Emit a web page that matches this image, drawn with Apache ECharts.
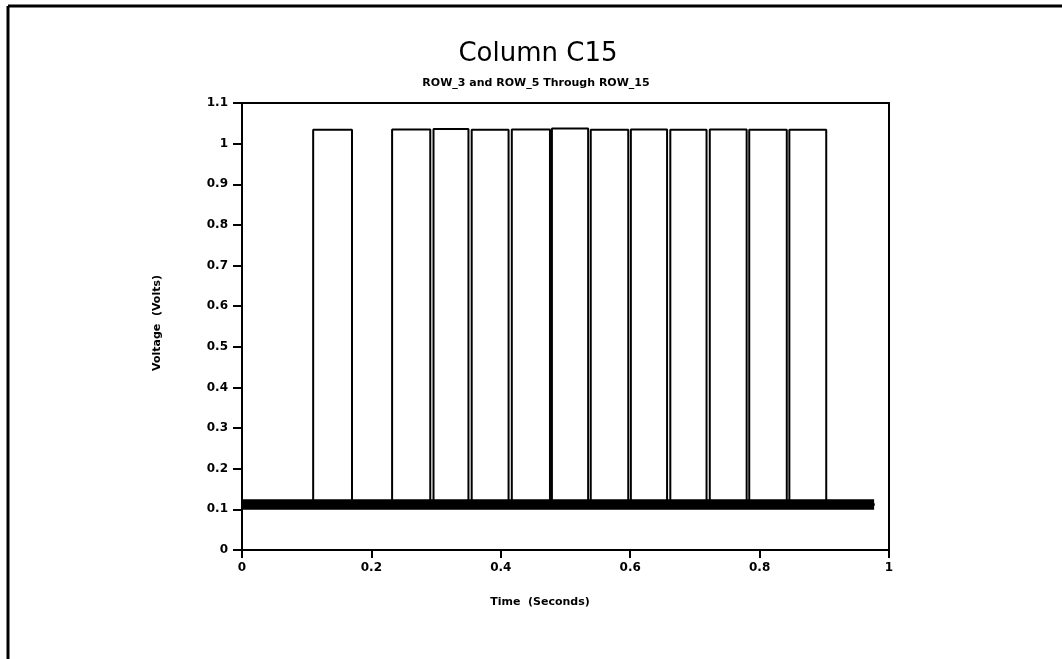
<!DOCTYPE html>
<html>
<head>
<meta charset="utf-8">
<script src="https://cdn.jsdelivr.net/npm/echarts@6/dist/echarts.min.js"></script>
<style>html,body{margin:0;padding:0;background:#fff}#c{width:1062px;height:659px}</style>
</head>
<body>
<div id="c"></div>
<script>
// ---- data ----
const titleText = "Column C15";
const subtitleText = "ROW_3 and ROW_5 Through ROW_15";
const xName = "Time  (Seconds)";
const yName = "Voltage  (Volts)";
const rowNames = ["ROW_3","ROW_5","ROW_6","ROW_7","ROW_8","ROW_9","ROW_10","ROW_11","ROW_12","ROW_13","ROW_14","ROW_15"];
const pulseRise = [0.110, 0.232, 0.296, 0.355, 0.417, 0.479, 0.539, 0.601, 0.662, 0.723, 0.784, 0.846];
const pulseFall = [0.170, 0.291, 0.350, 0.412, 0.476, 0.535, 0.597, 0.657, 0.718, 0.780, 0.842, 0.903];
const pulseTop  = [1.034, 1.035, 1.036, 1.034, 1.035, 1.037, 1.034, 1.035, 1.034, 1.035, 1.034, 1.034];
const baseLevel = 0.112;
const traceStart = 0.0;
const traceEnd = 0.977;
const bandLow = 0.099;
const bandHigh = 0.125;
const xTicks = [0, 0.2, 0.4, 0.6, 0.8, 1];
const yTicks = [0, 0.1, 0.2, 0.3, 0.4, 0.5, 0.6, 0.7, 0.8, 0.9, 1, 1.1];

// ---- build series ----
const series = [];
series.push({
  name: 'noiseBand', type: 'custom', silent: true, z: 1,
  data: [[traceStart, traceEnd, bandLow, bandHigh]],
  encode: { x: [0, 1], y: [2, 3] },
  renderItem: function (params, api) {
    const p0 = api.coord([api.value(0), api.value(3)]);
    const p1 = api.coord([api.value(1), api.value(2)]);
    return { type: 'rect', shape: { x: p0[0], y: p0[1], width: p1[0] - p0[0], height: p1[1] - p0[1] }, style: { fill: '#000' } };
  }
});
rowNames.forEach((nm, i) => {
  series.push({
    name: nm, type: 'line', symbol: 'none', silent: true,
    lineStyle: { width: 2, color: '#000' },
    data: [
      [traceStart, baseLevel],
      [pulseRise[i], baseLevel],
      [pulseRise[i], pulseTop[i]],
      [pulseFall[i], pulseTop[i]],
      [pulseFall[i], baseLevel],
      [traceEnd, baseLevel]
    ],
    z: 2
  });
});

const labelFont = { color: '#000', fontFamily: 'DejaVu Sans', fontWeight: 'bold', fontSize: 12 };

const chart = echarts.init(document.getElementById('c'), null, { renderer: 'canvas' });
chart.setOption({
  animation: false,
  backgroundColor: '#fff',
  grid: { left: 242, right: 173, top: 103, bottom: 109, show: true, borderColor: '#000', borderWidth: 2, backgroundColor: 'transparent' },
  xAxis: {
    type: 'value', min: xTicks[0], max: xTicks[xTicks.length - 1], interval: 0.2,
    axisLine: { show: true, lineStyle: { color: '#000', width: 2 } },
    axisTick: { show: true, inside: false, length: 8, lineStyle: { color: '#000', width: 2 } },
    axisLabel: Object.assign({ margin: 12 }, labelFont),
    splitLine: { show: false }
  },
  yAxis: {
    type: 'value', min: yTicks[0], max: yTicks[yTicks.length - 1], interval: 0.1,
    axisLine: { show: true, lineStyle: { color: '#000', width: 2 } },
    axisTick: { show: true, inside: false, length: 9, lineStyle: { color: '#000', width: 2 } },
    axisLabel: Object.assign({ margin: 14 }, labelFont),
    splitLine: { show: false }
  },
  series: series,
  graphic: [
    { type: 'line', shape: { x1: 8, y1: 6, x2: 1062, y2: 6 }, style: { stroke: '#000', lineWidth: 3 } },
    { type: 'line', shape: { x1: 8, y1: 6, x2: 8, y2: 659 }, style: { stroke: '#000', lineWidth: 3 } },
    { type: 'text', style: { text: titleText, x: 538, y: 54, align: 'center', verticalAlign: 'middle', font: 'normal 26px "DejaVu Sans"', fill: '#000' } },
    { type: 'text', style: { text: subtitleText, x: 536, y: 83, align: 'center', verticalAlign: 'middle', font: 'bold 11px "DejaVu Sans"', fill: '#000' } },
    { type: 'text', style: { text: xName, x: 540, y: 602, align: 'center', verticalAlign: 'middle', font: 'bold 11px "DejaVu Sans"', fill: '#000' } },
    { type: 'text', x: 157, y: 323, rotation: Math.PI / 2, style: { text: yName, x: 0, y: 0, align: 'center', verticalAlign: 'middle', font: 'bold 11px "DejaVu Sans"', fill: '#000' } }
  ]
});
</script>
</body>
</html>
